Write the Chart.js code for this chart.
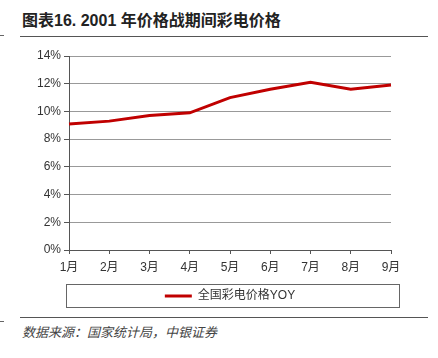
<!DOCTYPE html>
<html lang="zh">
<head>
  <meta charset="UTF-8" />
  <title>2001年价格战期间彩电价格</title>
  <style>
    body {
      margin: 0;
      width: 438px;
      height: 358px;
      background: #fff;
      position: relative;
      overflow: hidden;
      font-family: "Liberation Sans", "Noto Sans CJK SC", sans-serif;
    }
    .title {
      position: absolute;
      left: 22px;
      top: 12px;
      font-size: 16px;
      line-height: 18px;
      font-weight: bold;
      color: #222;
      font-family: "Liberation Sans", "Noto Sans CJK SC", sans-serif;
    }
    .rule {
      position: absolute;
      left: 20px;
      width: 408px;
      height: 0;
      border-top: 1px solid #555;
    }
    .mark {
      position: absolute;
      left: 0;
      width: 4px;
      border-top: 1px solid #666;
    }
    .wrap {
      position: absolute;
      left: 0;
      top: 40px;
      width: 438px;
      height: 272px;
    }
    .source {
      position: absolute;
      left: 22px;
      top: 322px;
      font-size: 13px;
      font-style: italic;
      color: #444;
      font-family: "Noto Sans CJK SC", sans-serif;
    }
  </style>
  <script src="https://cdn.jsdelivr.net/npm/chart.js"></script>
</head>
<body>

<div class="title">图表16. 2001 年价格战期间彩电价格</div>
<div class="rule" style="top:36px"></div>
<div class="mark" style="top:35px"></div>
<div class="wrap"><canvas id="tvChart"></canvas></div>
<div class="rule" style="top:317px"></div>
<div class="mark" style="top:321px"></div>
<div class="source">数据来源：国家统计局，中银证券</div>

<script>
  const months = ['1月', '2月', '3月', '4月', '5月', '6月', '7月', '8月', '9月'];
  const tvPriceYoy = [9.1, 9.3, 9.7, 9.9, 11.0, 11.6, 12.1, 11.6, 11.9];
  const seriesName = '全国彩电价格YOY';

  const fontFamily = '"Liberation Sans", "Noto Sans CJK SC", sans-serif';

  // frame round the legend, wider than the legend itself
  const legendFrame = {
    id: 'legendFrame',
    afterDraw(chart) {
      const hb = chart.legend.legendHitBoxes[0];
      if (!hb) return;
      const ctx = chart.ctx;
      const cy = hb.top + hb.height / 2;
      ctx.save();
      ctx.strokeStyle = '#666';
      ctx.lineWidth = 1;
      ctx.strokeRect(chart.chartArea.left - 2.5, Math.round(cy - 12) + 0.5, chart.chartArea.width + 11, 23);
      ctx.restore();
    }
  };

  new Chart(document.getElementById('tvChart'), {
    type: 'line',
    data: {
      labels: months,
      datasets: [{
        label: seriesName,
        data: tvPriceYoy,
        borderColor: '#c00000',
        backgroundColor: '#c00000',
        borderWidth: 3,
        pointRadius: 0,
        tension: 0
      }]
    },
    options: {
      responsive: true,
      maintainAspectRatio: false,
      animation: false,
      layout: {
        padding: { top: 16, right: 47, left: 0, bottom: 0 }
      },
      plugins: {
        legend: {
          position: 'bottom',
          fullSize: false,
          labels: {
            usePointStyle: true,
            pointStyle: 'line',
            pointStyleWidth: 27,
            padding: 10,
            color: '#333',
            font: { family: fontFamily, size: 12 }
          }
        },
        tooltip: { enabled: false }
      },
      scales: {
        x: {
          offset: false,
          afterFit(s) { s.height = 30; },
          grid: {
            drawOnChartArea: false,
            drawTicks: true,
            tickLength: 4,
            tickColor: '#555'
          },
          border: { display: true, color: '#555' },
          ticks: {
            color: '#333',
            padding: 6,
            maxRotation: 0,
            font: { family: fontFamily, size: 12 }
          }
        },
        y: {
          min: 0,
          max: 14,
          afterFit(s) { s.width = 69; },
          grid: {
            color: '#999',
            borderDash: [2, 2],
            tickColor: '#555',
            tickLength: 5,
            tickBorderDash: []
          },
          border: { display: true, color: '#555' },
          ticks: {
            stepSize: 2,
            color: '#333',
            padding: 3,
            font: { family: fontFamily, size: 12 },
            callback: v => v + '%'
          }
        }
      }
    },
    plugins: [legendFrame]
  });
</script>

</body>
</html>
